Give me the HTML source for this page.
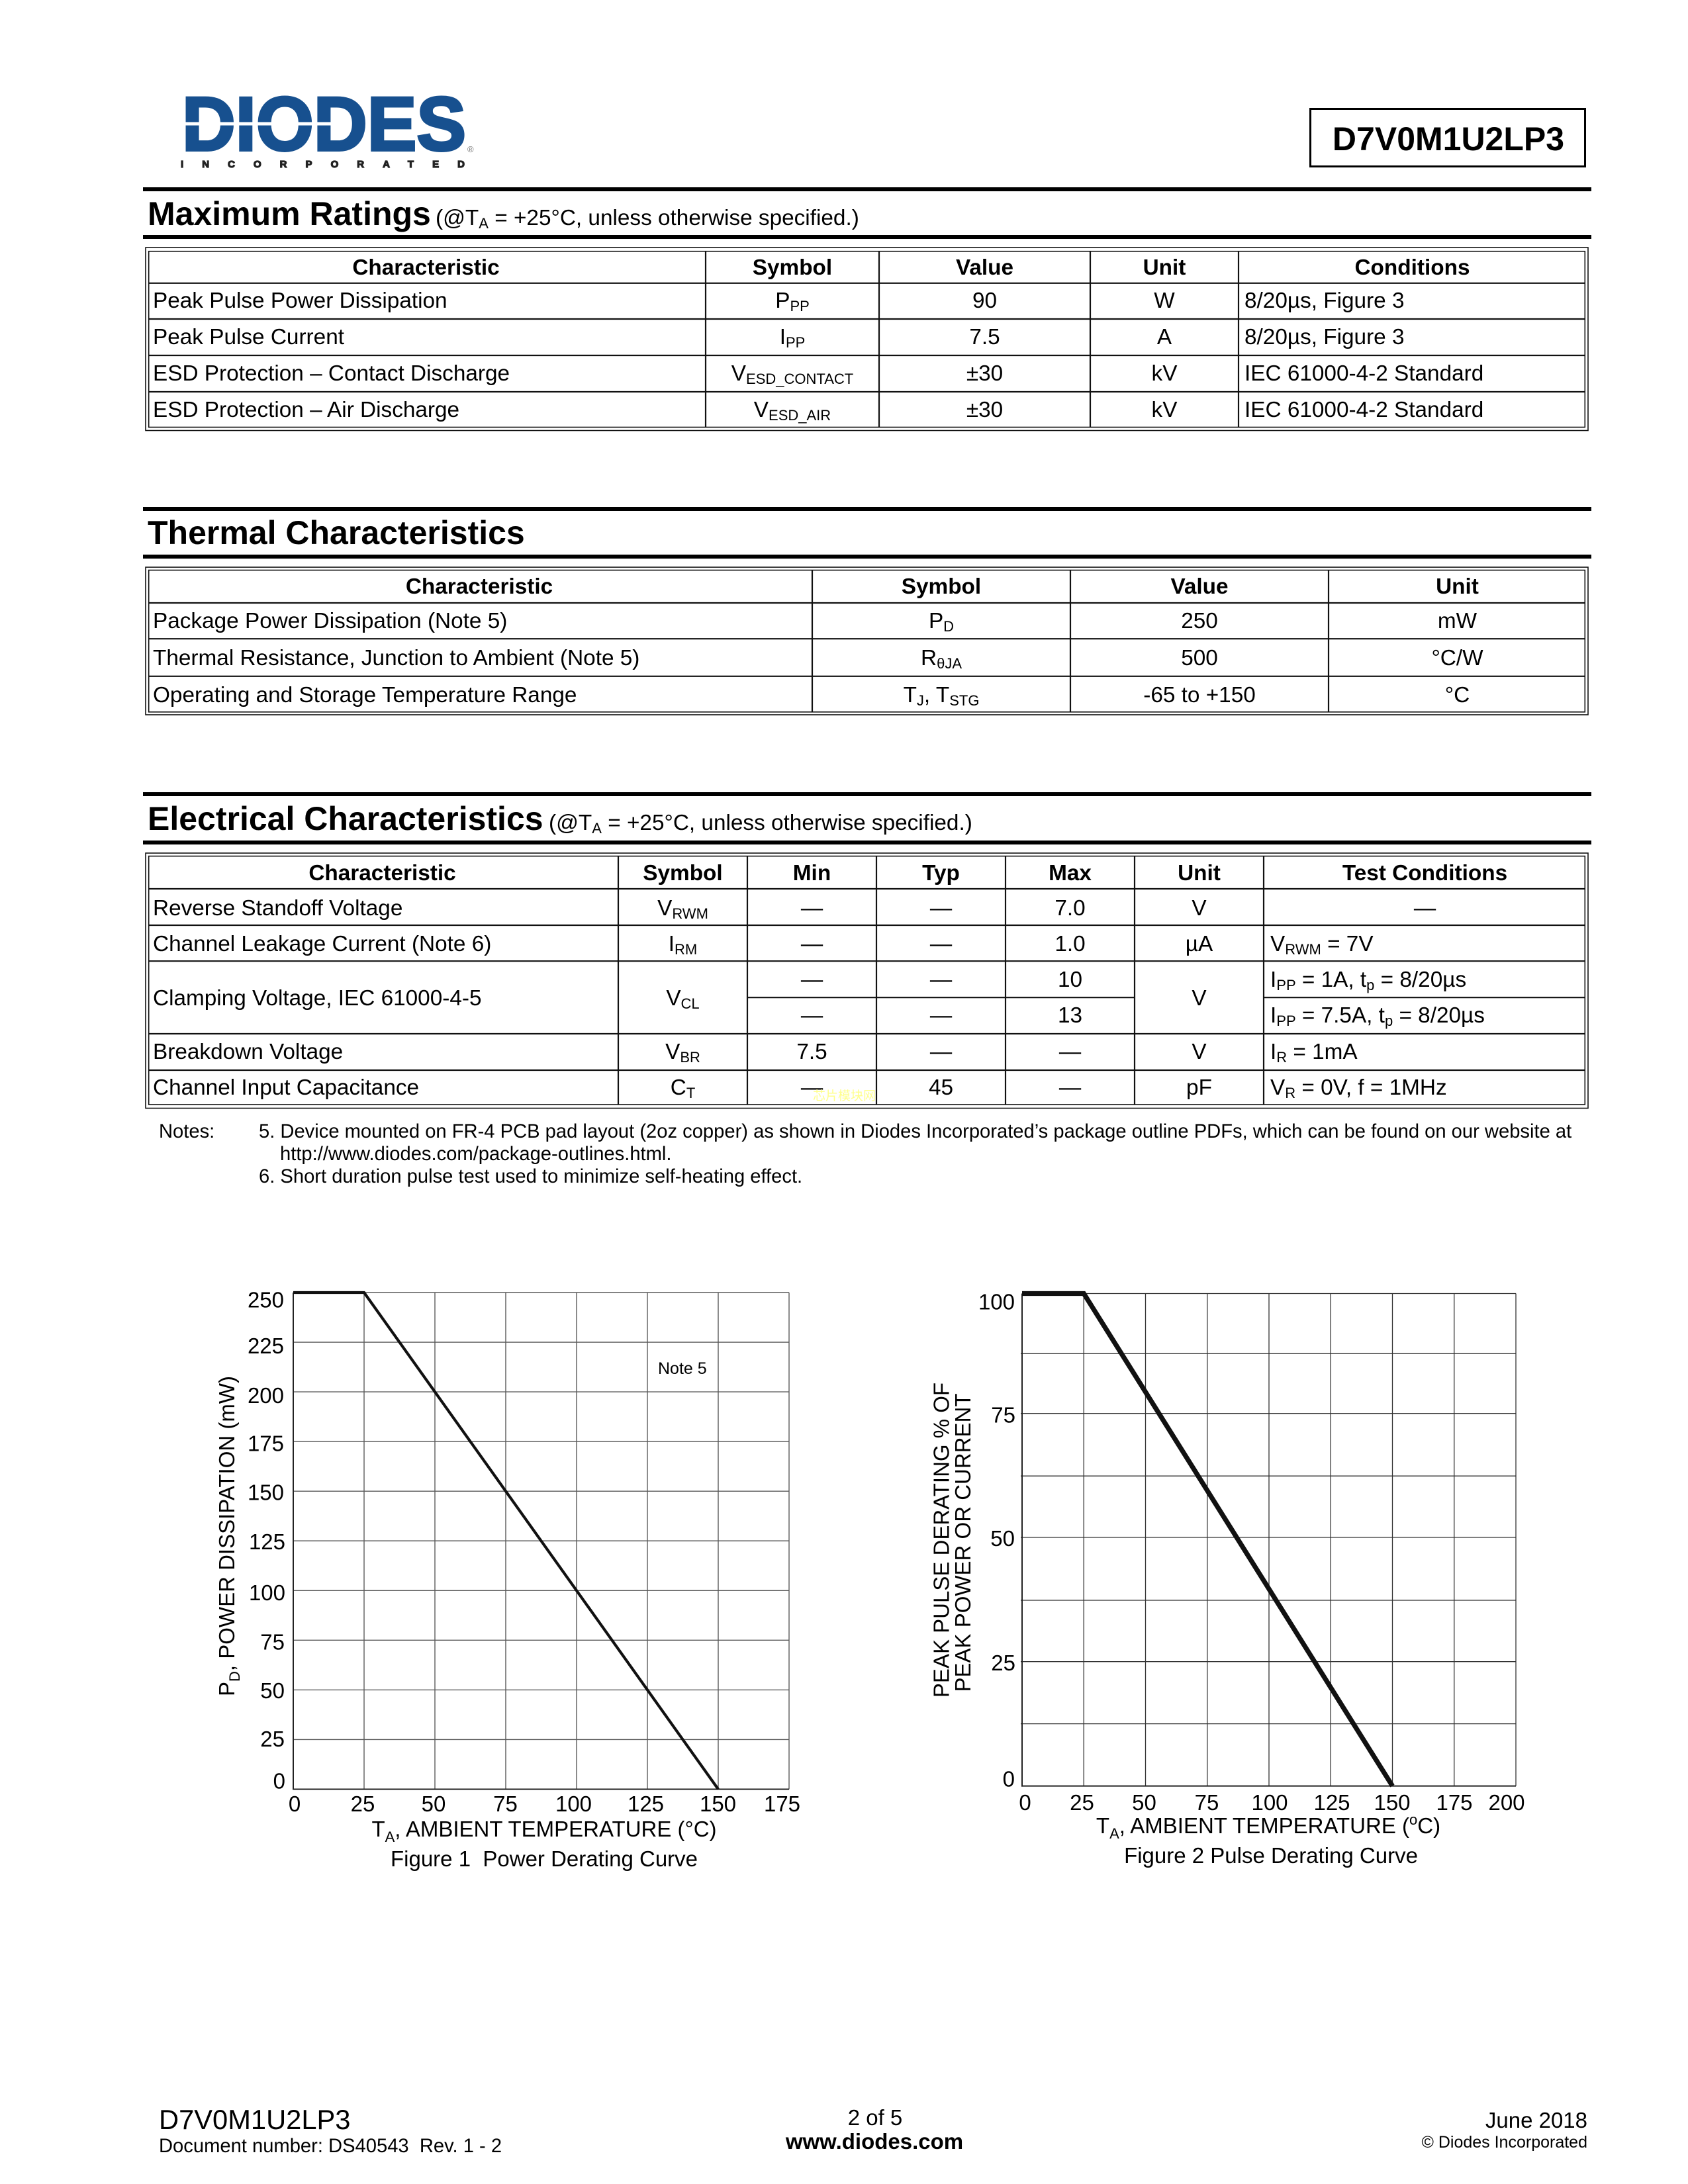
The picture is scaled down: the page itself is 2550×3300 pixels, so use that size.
<!DOCTYPE html>
<html><head><meta charset="utf-8">
<style>
html,body{margin:0;padding:0;background:#fff;}
svg{display:block;}
text{font-family:"Liberation Sans",Arial,"Noto Sans CJK SC",sans-serif;fill:#000;white-space:pre;}
.b{font-weight:bold;}
.t{font-size:33.33px;}
.h{font-size:50px;font-weight:bold;}
.n{font-size:29.17px;}
.c{font-size:33px;}
</style></head><body>
<svg width="2550" height="3300" viewBox="0 0 2550 3300">
<rect x="0" y="0" width="2550" height="3300" fill="#fff"/>

<!-- LOGO -->
<text x="275" y="227" font-size="115" font-weight="bold" fill="#17508f" stroke="#17508f" stroke-width="4" textLength="429" lengthAdjust="spacingAndGlyphs" style="fill:#17508f">DIODES</text>
<rect x="272" y="184.5" width="234" height="5" fill="#fff"/>
<text x="273" y="253" font-size="15" font-weight="bold" stroke="#222" stroke-width="1.2" textLength="429" lengthAdjust="spacing" style="fill:#222">INCORPORATED</text>
<text x="706" y="230" font-size="13" style="fill:#777">®</text>

<!-- Part box -->
<rect x="1979.5" y="164.5" width="415" height="87" fill="none" stroke="#000" stroke-width="3"/>
<text x="2188" y="227" class="h" text-anchor="middle">D7V0M1U2LP3</text>

<!-- Section lines -->
<rect x="216" y="283" width="2188" height="6" fill="#000"/>
<rect x="216" y="355" width="2188" height="6" fill="#000"/>
<rect x="216" y="766" width="2188" height="6" fill="#000"/>
<rect x="216" y="838" width="2188" height="6" fill="#000"/>
<rect x="216" y="1197" width="2188" height="6" fill="#000"/>
<rect x="216" y="1270" width="2188" height="6" fill="#000"/>

<!-- Headings -->
<text x="223" y="340" class="h">Maximum Ratings</text>
<text x="658" y="340" class="t">(@T<tspan font-size="22" dy="5">A</tspan><tspan dy="-5"> = +25°C, unless otherwise specified.)</tspan></text>
<text x="223" y="822" class="h">Thermal Characteristics</text>
<text x="223" y="1254" class="h">Electrical Characteristics</text>
<text x="829" y="1254" class="t">(@T<tspan font-size="22" dy="5">A</tspan><tspan dy="-5"> = +25°C, unless otherwise specified.)</tspan></text>

<!-- TABLE 1 -->
<g fill="none" stroke="#111" stroke-width="1.6">
<rect x="220" y="374" width="2179" height="276.5"/>
<rect x="224.7" y="379.7" width="2169.6" height="265.8"/>
</g>
<g stroke="#111" stroke-width="2.2">
<line x1="224.7" y1="427.8" x2="2394.3" y2="427.8"/>
<line x1="224.7" y1="482" x2="2394.3" y2="482"/>
<line x1="224.7" y1="537" x2="2394.3" y2="537"/>
<line x1="224.7" y1="592" x2="2394.3" y2="592"/>
<line x1="1066" y1="379.7" x2="1066" y2="645.5"/>
<line x1="1328" y1="379.7" x2="1328" y2="645.5"/>
<line x1="1647" y1="379.7" x2="1647" y2="645.5"/>
<line x1="1871" y1="379.7" x2="1871" y2="645.5"/>
</g>
<g class="t">
<text x="643.5" y="415" class="t b" text-anchor="middle">Characteristic</text>
<text x="1197" y="415" class="t b" text-anchor="middle">Symbol</text>
<text x="1487.5" y="415" class="t b" text-anchor="middle">Value</text>
<text x="1759" y="415" class="t b" text-anchor="middle">Unit</text>
<text x="2133.5" y="415" class="t b" text-anchor="middle">Conditions</text>

<text x="231" y="465" class="t">Peak Pulse Power Dissipation</text>
<text x="1197" y="465" class="t" text-anchor="middle">P<tspan font-size="22" dy="5">PP</tspan></text>
<text x="1487.5" y="465" class="t" text-anchor="middle">90</text>
<text x="1759" y="465" class="t" text-anchor="middle">W</text>
<text x="1880" y="465" class="t">8/20µs, Figure 3</text>

<text x="231" y="520" class="t">Peak Pulse Current</text>
<text x="1197" y="520" class="t" text-anchor="middle">I<tspan font-size="22" dy="5">PP</tspan></text>
<text x="1487.5" y="520" class="t" text-anchor="middle">7.5</text>
<text x="1759" y="520" class="t" text-anchor="middle">A</text>
<text x="1880" y="520" class="t">8/20µs, Figure 3</text>

<text x="231" y="575" class="t">ESD Protection – Contact Discharge</text>
<text x="1197" y="575" class="t" text-anchor="middle">V<tspan font-size="22" dy="5">ESD_CONTACT</tspan></text>
<text x="1487.5" y="575" class="t" text-anchor="middle">±30</text>
<text x="1759" y="575" class="t" text-anchor="middle">kV</text>
<text x="1880" y="575" class="t">IEC 61000-4-2 Standard</text>

<text x="231" y="630" class="t">ESD Protection – Air Discharge</text>
<text x="1197" y="630" class="t" text-anchor="middle">V<tspan font-size="22" dy="5">ESD_AIR</tspan></text>
<text x="1487.5" y="630" class="t" text-anchor="middle">±30</text>
<text x="1759" y="630" class="t" text-anchor="middle">kV</text>
<text x="1880" y="630" class="t">IEC 61000-4-2 Standard</text>
</g>

<!-- TABLE 2 -->
<g fill="none" stroke="#111" stroke-width="1.6">
<rect x="220" y="857" width="2179" height="223"/>
<rect x="224.7" y="861.5" width="2169.6" height="214.3"/>
</g>
<g stroke="#111" stroke-width="2.2">
<line x1="224.7" y1="911" x2="2394.3" y2="911"/>
<line x1="224.7" y1="965.2" x2="2394.3" y2="965.2"/>
<line x1="224.7" y1="1021.8" x2="2394.3" y2="1021.8"/>
<line x1="1227" y1="861.5" x2="1227" y2="1075.8"/>
<line x1="1617" y1="861.5" x2="1617" y2="1075.8"/>
<line x1="2007" y1="861.5" x2="2007" y2="1075.8"/>
</g>
<text x="724" y="897" class="t b" text-anchor="middle">Characteristic</text>
<text x="1422" y="897" class="t b" text-anchor="middle">Symbol</text>
<text x="1812" y="897" class="t b" text-anchor="middle">Value</text>
<text x="2201.5" y="897" class="t b" text-anchor="middle">Unit</text>

<text x="231" y="949" class="t">Package Power Dissipation (Note 5)</text>
<text x="1422" y="949" class="t" text-anchor="middle">P<tspan font-size="22" dy="5">D</tspan></text>
<text x="1812" y="949" class="t" text-anchor="middle">250</text>
<text x="2201.5" y="949" class="t" text-anchor="middle">mW</text>

<text x="231" y="1005" class="t">Thermal Resistance, Junction to Ambient (Note 5)</text>
<text x="1422" y="1005" class="t" text-anchor="middle">R<tspan font-size="22" dy="5">θJA</tspan></text>
<text x="1812" y="1005" class="t" text-anchor="middle">500</text>
<text x="2201.5" y="1005" class="t" text-anchor="middle">°C/W</text>

<text x="231" y="1061" class="t">Operating and Storage Temperature Range</text>
<text x="1422" y="1061" class="t" text-anchor="middle">T<tspan font-size="22" dy="5">J</tspan><tspan dy="-5">, T</tspan><tspan font-size="22" dy="5">STG</tspan></text>
<text x="1812" y="1061" class="t" text-anchor="middle">-65 to +150</text>
<text x="2201.5" y="1061" class="t" text-anchor="middle">°C</text>

<!-- TABLE 3 -->
<g fill="none" stroke="#111" stroke-width="1.6">
<rect x="220" y="1289" width="2179" height="385.5"/>
<rect x="224.7" y="1293.6" width="2169.6" height="375.4"/>
</g>
<g stroke="#111" stroke-width="2.2">
<line x1="224.7" y1="1343" x2="2394.3" y2="1343"/>
<line x1="224.7" y1="1398" x2="2394.3" y2="1398"/>
<line x1="224.7" y1="1452.2" x2="2394.3" y2="1452.2"/>
<line x1="1129" y1="1507.2" x2="1714" y2="1507.2"/>
<line x1="1909" y1="1507.2" x2="2394.3" y2="1507.2"/>
<line x1="224.7" y1="1562" x2="2394.3" y2="1562"/>
<line x1="224.7" y1="1617" x2="2394.3" y2="1617"/>
<line x1="934" y1="1293.6" x2="934" y2="1669"/>
<line x1="1129" y1="1293.6" x2="1129" y2="1669"/>
<line x1="1324" y1="1293.6" x2="1324" y2="1669"/>
<line x1="1519" y1="1293.6" x2="1519" y2="1669"/>
<line x1="1714" y1="1293.6" x2="1714" y2="1669"/>
<line x1="1909" y1="1293.6" x2="1909" y2="1669"/>
</g>
<text x="577.5" y="1330" class="t b" text-anchor="middle">Characteristic</text>
<text x="1031.5" y="1330" class="t b" text-anchor="middle">Symbol</text>
<text x="1226.5" y="1330" class="t b" text-anchor="middle">Min</text>
<text x="1421.5" y="1330" class="t b" text-anchor="middle">Typ</text>
<text x="1616.5" y="1330" class="t b" text-anchor="middle">Max</text>
<text x="1811.5" y="1330" class="t b" text-anchor="middle">Unit</text>
<text x="2152.5" y="1330" class="t b" text-anchor="middle">Test Conditions</text>

<text x="231" y="1383" class="t">Reverse Standoff Voltage</text>
<text x="1031.5" y="1383" class="t" text-anchor="middle">V<tspan font-size="22" dy="5">RWM</tspan></text>
<text x="1226.5" y="1383" class="t" text-anchor="middle">—</text>
<text x="1421.5" y="1383" class="t" text-anchor="middle">—</text>
<text x="1616.5" y="1383" class="t" text-anchor="middle">7.0</text>
<text x="1811.5" y="1383" class="t" text-anchor="middle">V</text>
<text x="2152.5" y="1383" class="t" text-anchor="middle">—</text>

<text x="231" y="1437" class="t">Channel Leakage Current (Note 6)</text>
<text x="1031.5" y="1437" class="t" text-anchor="middle">I<tspan font-size="22" dy="5">RM</tspan></text>
<text x="1226.5" y="1437" class="t" text-anchor="middle">—</text>
<text x="1421.5" y="1437" class="t" text-anchor="middle">—</text>
<text x="1616.5" y="1437" class="t" text-anchor="middle">1.0</text>
<text x="1811.5" y="1437" class="t" text-anchor="middle">µA</text>
<text x="1919" y="1437" class="t">V<tspan font-size="22" dy="5">RWM</tspan><tspan dy="-5"> = 7V</tspan></text>

<text x="231" y="1519" class="t">Clamping Voltage, IEC 61000-4-5</text>
<text x="1031.5" y="1519" class="t" text-anchor="middle">V<tspan font-size="22" dy="5">CL</tspan></text>
<text x="1811.5" y="1519" class="t" text-anchor="middle">V</text>
<text x="1226.5" y="1491" class="t" text-anchor="middle">—</text>
<text x="1421.5" y="1491" class="t" text-anchor="middle">—</text>
<text x="1616.5" y="1491" class="t" text-anchor="middle">10</text>
<text x="1919" y="1491" class="t">I<tspan font-size="22" dy="5">PP</tspan><tspan dy="-5"> = 1A, t</tspan><tspan font-size="22" dy="5">p</tspan><tspan dy="-5"> = 8/20µs</tspan></text>
<text x="1226.5" y="1545" class="t" text-anchor="middle">—</text>
<text x="1421.5" y="1545" class="t" text-anchor="middle">—</text>
<text x="1616.5" y="1545" class="t" text-anchor="middle">13</text>
<text x="1919" y="1545" class="t">I<tspan font-size="22" dy="5">PP</tspan><tspan dy="-5"> = 7.5A, t</tspan><tspan font-size="22" dy="5">p</tspan><tspan dy="-5"> = 8/20µs</tspan></text>

<text x="231" y="1600" class="t">Breakdown Voltage</text>
<text x="1031.5" y="1600" class="t" text-anchor="middle">V<tspan font-size="22" dy="5">BR</tspan></text>
<text x="1226.5" y="1600" class="t" text-anchor="middle">7.5</text>
<text x="1421.5" y="1600" class="t" text-anchor="middle">—</text>
<text x="1616.5" y="1600" class="t" text-anchor="middle">—</text>
<text x="1811.5" y="1600" class="t" text-anchor="middle">V</text>
<text x="1919" y="1600" class="t">I<tspan font-size="22" dy="5">R</tspan><tspan dy="-5"> = 1mA</tspan></text>

<text x="231" y="1654" class="t">Channel Input Capacitance</text>
<text x="1031.5" y="1654" class="t" text-anchor="middle">C<tspan font-size="22" dy="5">T</tspan></text>
<text x="1226.5" y="1654" class="t" text-anchor="middle">—</text>
<text x="1421.5" y="1654" class="t" text-anchor="middle">45</text>
<text x="1616.5" y="1654" class="t" text-anchor="middle">—</text>
<text x="1811.5" y="1654" class="t" text-anchor="middle">pF</text>
<text x="1919" y="1654" class="t">V<tspan font-size="22" dy="5">R</tspan><tspan dy="-5"> = 0V, f = 1MHz</tspan></text>

<text x="1228" y="1662" font-size="19" style="fill:#ffff8c;font-family:'Noto Sans CJK SC',sans-serif">芯片模块网</text>

<!-- Notes -->
<text x="240" y="1719" class="n">Notes:</text>
<text x="391" y="1719" class="n">5. Device mounted on FR-4 PCB pad layout (2oz copper) as shown in Diodes Incorporated’s package outline PDFs, which can be found on our website at</text>
<text x="423" y="1753" class="n">http://www.diodes.com/package-outlines.html.</text>
<text x="391" y="1787" class="n">6. Short duration pulse test used to minimize self-heating effect.</text>

<!-- CHART 1 -->
<g stroke="#5a5a5a" stroke-width="1.4">
<line x1="550" y1="1953" x2="550" y2="2703.5"/>
<line x1="657" y1="1953" x2="657" y2="2703.5"/>
<line x1="764" y1="1953" x2="764" y2="2703.5"/>
<line x1="871" y1="1953" x2="871" y2="2703.5"/>
<line x1="978" y1="1953" x2="978" y2="2703.5"/>
<line x1="1085" y1="1953" x2="1085" y2="2703.5"/>
<line x1="1192" y1="1953" x2="1192" y2="2703.5"/>
<line x1="443" y1="1953" x2="1192" y2="1953"/>
<line x1="443" y1="2028.05" x2="1192" y2="2028.05"/>
<line x1="443" y1="2103.1" x2="1192" y2="2103.1"/>
<line x1="443" y1="2178.15" x2="1192" y2="2178.15"/>
<line x1="443" y1="2253.2" x2="1192" y2="2253.2"/>
<line x1="443" y1="2328.25" x2="1192" y2="2328.25"/>
<line x1="443" y1="2403.3" x2="1192" y2="2403.3"/>
<line x1="443" y1="2478.35" x2="1192" y2="2478.35"/>
<line x1="443" y1="2553.4" x2="1192" y2="2553.4"/>
<line x1="443" y1="2628.45" x2="1192" y2="2628.45"/>
</g>
<g stroke="#222" stroke-width="2">
<line x1="443" y1="1953" x2="443" y2="2704.5"/>
<line x1="442" y1="2703.5" x2="1192" y2="2703.5"/>
</g>
<polyline points="443,1953 550,1953 1085,2703.5" fill="none" stroke="#111" stroke-width="4.2" stroke-linejoin="miter"/>
<text x="429" y="1975.5" class="c" text-anchor="end">250</text>
<text x="429" y="2045" class="c" text-anchor="end">225</text>
<text x="429" y="2120" class="c" text-anchor="end">200</text>
<text x="429" y="2192.5" class="c" text-anchor="end">175</text>
<text x="429" y="2266.5" class="c" text-anchor="end">150</text>
<text x="431" y="2341" class="c" text-anchor="end">125</text>
<text x="431" y="2418" class="c" text-anchor="end">100</text>
<text x="430" y="2492.5" class="c" text-anchor="end">75</text>
<text x="430" y="2566" class="c" text-anchor="end">50</text>
<text x="430" y="2639" class="c" text-anchor="end">25</text>
<text x="431" y="2702.5" class="c" text-anchor="end">0</text>
<text x="445" y="2737" class="c" text-anchor="middle">0</text>
<text x="548" y="2737" class="c" text-anchor="middle">25</text>
<text x="655" y="2737" class="c" text-anchor="middle">50</text>
<text x="763.5" y="2737" class="c" text-anchor="middle">75</text>
<text x="866.5" y="2737" class="c" text-anchor="middle">100</text>
<text x="975.5" y="2737" class="c" text-anchor="middle">125</text>
<text x="1084.5" y="2737" class="c" text-anchor="middle">150</text>
<text x="1181.5" y="2737" class="c" text-anchor="middle">175</text>
<text x="822" y="2775" class="c" text-anchor="middle">T<tspan font-size="22" dy="8">A</tspan><tspan dy="-8">, AMBIENT TEMPERATURE (°C)</tspan></text>
<text x="822" y="2820" class="c" text-anchor="middle">Figure 1  Power Derating Curve</text>
<text x="994" y="2076" font-size="25">Note 5</text>
<text transform="translate(354,2321) rotate(-90)" x="0" y="0" class="c" text-anchor="middle">P<tspan font-size="22" dy="8">D</tspan><tspan dy="-8">, POWER DISSIPATION (mW)</tspan></text>

<!-- CHART 2 -->
<g stroke="#333" stroke-width="1.3">
<line x1="1637.25" y1="1954.5" x2="1637.25" y2="2698.6"/>
<line x1="1730.5" y1="1954.5" x2="1730.5" y2="2698.6"/>
<line x1="1823.75" y1="1954.5" x2="1823.75" y2="2698.6"/>
<line x1="1917" y1="1954.5" x2="1917" y2="2698.6"/>
<line x1="2010.25" y1="1954.5" x2="2010.25" y2="2698.6"/>
<line x1="2103.5" y1="1954.5" x2="2103.5" y2="2698.6"/>
<line x1="2196.75" y1="1954.5" x2="2196.75" y2="2698.6"/>
<line x1="2290" y1="1954.5" x2="2290" y2="2698.6"/>
<line x1="1544" y1="1954.5" x2="2290" y2="1954.5"/>
<line x1="1542" y1="2045.4" x2="2290" y2="2045.4"/>
<line x1="1542" y1="2135.7" x2="2290" y2="2135.7"/>
<line x1="1542" y1="2230.2" x2="2290" y2="2230.2"/>
<line x1="1542" y1="2323" x2="2290" y2="2323"/>
<line x1="1542" y1="2418" x2="2290" y2="2418"/>
<line x1="1542" y1="2510.7" x2="2290" y2="2510.7"/>
<line x1="1542" y1="2604.6" x2="2290" y2="2604.6"/>
</g>
<g stroke="#222" stroke-width="2">
<line x1="1544" y1="1954.5" x2="1544" y2="2699.6"/>
<line x1="1543" y1="2698.6" x2="2290" y2="2698.6"/>
</g>
<polyline points="1544,1954.5 1637.25,1954.5 2103.5,2698.6" fill="none" stroke="#111" stroke-width="7.3" stroke-linejoin="miter"/>
<text x="1533" y="1978.5" class="c" text-anchor="end">100</text>
<text x="1534" y="2149.5" class="c" text-anchor="end">75</text>
<text x="1533" y="2336" class="c" text-anchor="end">50</text>
<text x="1534" y="2524" class="c" text-anchor="end">25</text>
<text x="1533" y="2699.5" class="c" text-anchor="end">0</text>
<text x="1548.5" y="2735" class="c" text-anchor="middle">0</text>
<text x="1634.5" y="2735" class="c" text-anchor="middle">25</text>
<text x="1728.5" y="2735" class="c" text-anchor="middle">50</text>
<text x="1823" y="2735" class="c" text-anchor="middle">75</text>
<text x="1918" y="2735" class="c" text-anchor="middle">100</text>
<text x="2012" y="2735" class="c" text-anchor="middle">125</text>
<text x="2103" y="2735" class="c" text-anchor="middle">150</text>
<text x="2197" y="2735" class="c" text-anchor="middle">175</text>
<text x="2276" y="2735" class="c" text-anchor="middle">200</text>
<text x="1916" y="2770" class="c" text-anchor="middle">T<tspan font-size="22" dy="8">A</tspan><tspan dy="-8">, AMBIENT TEMPERATURE (</tspan><tspan font-size="22" dy="-13">o</tspan><tspan dy="13">C)</tspan></text>
<text x="1920" y="2815" class="c" text-anchor="middle">Figure 2 Pulse Derating Curve</text>
<text transform="translate(1433.5,2327) rotate(-90)" x="0" y="0" class="c" text-anchor="middle">PEAK PULSE DERATING % OF</text>
<text transform="translate(1466,2331) rotate(-90)" x="0" y="0" class="c" text-anchor="middle">PEAK POWER OR CURRENT</text>

<!-- FOOTER -->
<text x="240" y="3217" font-size="41.67">D7V0M1U2LP3</text>
<text x="240" y="3252" class="n">Document number: DS40543  Rev. 1 - 2</text>
<text x="1322" y="3211" class="c" text-anchor="middle">2 of 5</text>
<text x="1321" y="3247" class="c b" text-anchor="middle">www.diodes.com</text>
<text x="2398" y="3215" class="c" text-anchor="end">June 2018</text>
<text x="2398" y="3245" font-size="25" text-anchor="end">© Diodes Incorporated</text>
</svg>
</body></html>
